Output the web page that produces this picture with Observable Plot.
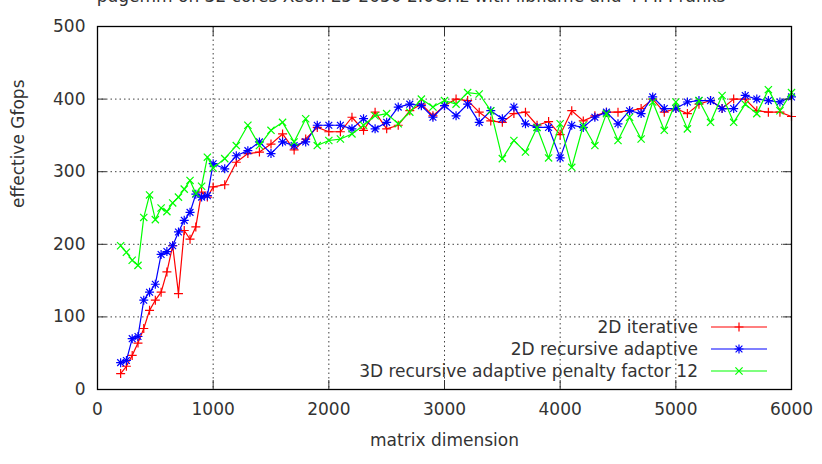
<!DOCTYPE html>
<html><head><meta charset="utf-8">
<script src="https://cdn.jsdelivr.net/npm/d3@7"></script>
<script src="https://cdn.jsdelivr.net/npm/@observablehq/plot@0.6"></script>
<style>body{margin:0;background:#fff}</style>
</head><body><div id="chart"></div>
<script>
const titleText = "pdgemm on 32 cores Xeon E5-2650 2.0GHz with libflame and 4 MPI ranks";
const xLabel = "matrix dimension";
const yLabel = "effective Gfops";
const xTicks = [0, 1000, 2000, 3000, 4000, 5000, 6000];
const yTicks = [0, 100, 200, 300, 400, 500];
const seriesNames = ["2D iterative", "2D recursive adaptive", "3D recursive adaptive penalty factor 12"];
const seriesColors = ["#ff0000", "#0000ff", "#00ff00"];

const dims = [200,250,300,350,400,450,500,550,600,650,700,750,800,850,900,950,1000,
  1100,1200,1300,1400,1500,1600,1700,1800,1900,2000,
  2100,2200,2300,2400,2500,2600,2700,2800,2900,3000,
  3100,3200,3300,3400,3500,3600,3700,3800,3900,4000,
  4100,4200,4300,4400,4500,4600,4700,4800,4900,5000,
  5100,5200,5300,5400,5500,5600,5700,5800,5900,6000];

const iter2D = [22,32,47,64,84,109,123,134,162,198,132,219,207,224,272,265,279,
  282,313,325,327,338,352,330,345,361,355,
  355,375,357,382,359,364,384,393,377,391,
  400,398,382,370,368,380,382,364,369,351,
  384,370,377,382,382,384,387,400,382,387,
  380,393,398,387,400,400,384,382,382,376];

const rec2D = [37,40,70,73,123,134,145,186,190,198,217,233,244,269,265,267,311,
  304,322,329,341,325,341,336,341,364,364,
  364,359,373,359,368,389,393,391,375,391,
  377,393,368,384,373,389,366,361,361,319,
  364,361,375,382,366,384,380,403,387,387,
  396,398,398,387,387,405,400,398,396,403];

const rec3D = [198,189,178,171,237,268,234,250,245,257,265,276,288,270,280,320,305,
  318,336,364,336,357,368,341,373,336,343,
  345,352,364,377,380,366,382,400,389,398,
  393,409,407,384,318,343,327,361,319,366,
  306,364,336,380,343,375,345,396,357,396,
  359,398,368,405,368,393,380,413,384,409];

const FONT = "DejaVu Sans, sans-serif";
const FS = 17;
const TEXT = "#333";

const symPlus = {draw(c){const r=4.5;c.moveTo(-r,0);c.lineTo(r,0);c.moveTo(0,-r);c.lineTo(0,r);}};
const symTimes = {draw(c){const r=3.6;c.moveTo(-r,-r);c.lineTo(r,r);c.moveTo(-r,r);c.lineTo(r,-r);}};
const symStar = {draw(c){const r=4.5,q=3.4;c.moveTo(-r,0);c.lineTo(r,0);c.moveTo(0,-r);c.lineTo(0,r);c.moveTo(-q,-q);c.lineTo(q,q);c.moveTo(-q,q);c.lineTo(q,-q);}};
const seriesSymbols = [symPlus, symStar, symTimes];
const seriesValues = [iter2D, rec2D, rec3D];

const W = 822, H = 464;
const M = {top: 26, right: 31, bottom: 75, left: 97};

function rowsFor(i) {
  return dims.map((d, j) => ({dim: d, gf: seriesValues[i][j], s: seriesNames[i]}));
}

function decorations(index, scales, values, dimensions) {
  const d = dimensions || {width: W, height: H, marginRight: M.right, marginBottom: M.bottom, marginLeft: M.left, marginTop: M.top};
  const g = d3.create("svg:g").attr("font-family", FONT).attr("font-size", FS).attr("fill", TEXT);
  // title (cut off at the top, as in the reference)
  g.append("text").attr("x", d.width / 2).attr("y", 2).attr("text-anchor", "middle").text(titleText);
  // legend
  const x0 = d.width - d.marginRight, y0 = d.height - d.marginBottom;
  const rowDy = [-62, -40, -18];
  seriesNames.forEach((name, i) => {
    const y = y0 + rowDy[i];
    g.append("text").attr("x", x0 - 93).attr("y", y).attr("dy", "0.35em").attr("text-anchor", "end").text(name);
    g.append("line").attr("x1", x0 - 80).attr("x2", x0 - 24).attr("y1", y).attr("y2", y)
      .attr("stroke", seriesColors[i]).attr("stroke-width", 1.2);
    const p = d3.path(); seriesSymbols[i].draw(p);
    g.append("path").attr("transform", `translate(${x0 - 52},${y})`).attr("d", p.toString())
      .attr("stroke", seriesColors[i]).attr("fill", "none").attr("stroke-width", 1.2);
  });
  return g.node();
}

const marks = [
  Plot.ruleX(xTicks.slice(1, -1), {stroke: "#000", strokeOpacity: 0.75, strokeDasharray: "1.5,3"}),
  Plot.ruleY(yTicks.slice(1, -1), {stroke: "#000", strokeOpacity: 0.75, strokeDasharray: "1.5,3"}),
];
seriesNames.forEach((n, i) => {
  const rows = rowsFor(i);
  marks.push(Plot.line(rows, {x: "dim", y: "gf", stroke: seriesColors[i], strokeWidth: 1.2}));
  marks.push(Plot.dot(rows, {x: "dim", y: "gf", symbol: seriesSymbols[i], stroke: seriesColors[i], fill: "none", strokeWidth: 1.2}));
});
marks.push(
  Plot.axisX(xTicks, {anchor: "bottom", tickSize: -9, tickPadding: 22, tickFormat: d3.format("d"), label: null, fontSize: FS, color: TEXT}),
  Plot.axisX(xTicks, {anchor: "top", tickSize: -9, tickFormat: () => "", label: null}),
  Plot.axisY(yTicks, {anchor: "left", tickSize: -9, tickPadding: 21, tickFormat: d3.format("d"), label: null, fontSize: FS, color: TEXT}),
  Plot.axisY(yTicks, {anchor: "right", tickSize: -9, tickFormat: () => "", label: null}),
  Plot.frame({stroke: "#000", strokeWidth: 1.3}),
  Plot.text([xLabel], {frameAnchor: "bottom", dy: 56, fontSize: FS, fill: TEXT}),
  Plot.text([yLabel], {frameAnchor: "left", dx: -79, rotate: -90, fontSize: FS, fill: TEXT}),
  decorations
);

const chart = Plot.plot({
  width: W, height: H,
  marginTop: M.top, marginRight: M.right, marginBottom: M.bottom, marginLeft: M.left,
  style: {fontFamily: FONT, fontSize: FS + "px", color: TEXT, background: "#fff"},
  x: {domain: [0, 6000]},
  y: {domain: [0, 500]},
  marks
});
document.getElementById("chart").append(chart);
</script>
</body></html>
